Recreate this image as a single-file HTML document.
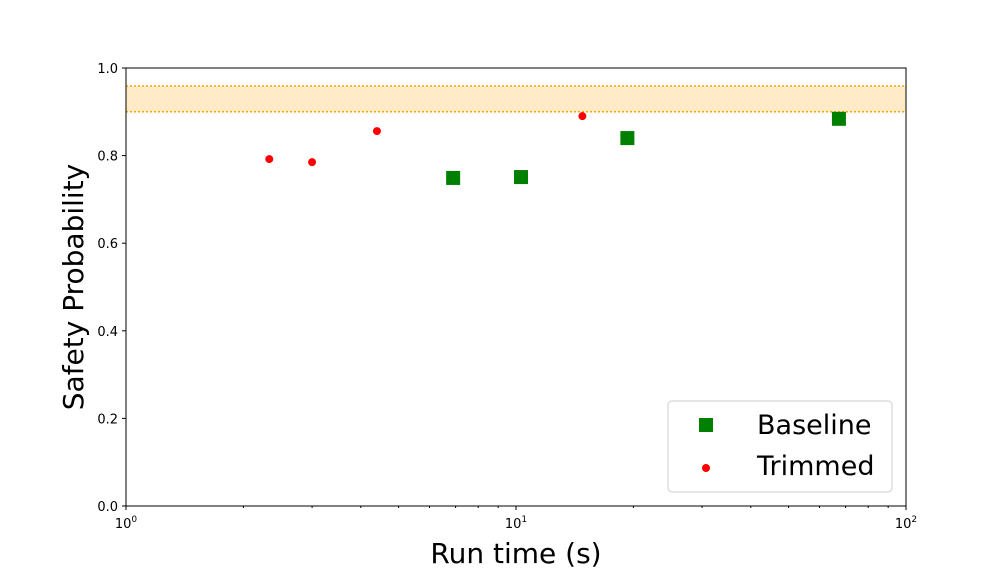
<!DOCTYPE html>
<html><head><meta charset="utf-8"><style>
body{margin:0;background:#fff;}
svg text{font-family:"DejaVu Sans","Liberation Sans",sans-serif;}
</style></head><body>
<svg id="chart" width="1007" height="569" xmlns="http://www.w3.org/2000/svg">
<g id="band"></g>
<g id="marks"></g>
<g id="axes"></g>
<text x="516" y="563" font-size="28" text-anchor="middle">Run time (s)</text>
<text transform="translate(83,287) rotate(-90)" font-size="28" text-anchor="middle">Safety Probability</text>
<g>
<rect x="668" y="401" width="224" height="91" rx="4" fill="#fff" fill-opacity="0.8" stroke="#ccc"/>
<rect x="699" y="418" width="14" height="14" fill="green"/>
<text x="757" y="434" font-size="27">Baseline</text>
<circle cx="706" cy="468" r="4" fill="red"/>
<text x="757" y="475" font-size="27">Trimmed</text>
</g>
</svg>
<script>
const baselineX=[6.9,10.3,19.3,67.3];
const baselineY=[0.749,0.751,0.840,0.884];
const trimmedX=[2.33,3.0,4.4,14.8];
const trimmedY=[0.792,0.785,0.856,0.890];
const bandRange=[0.900,0.959];
const yTicks=[0,0.2,0.4,0.6,0.8,1.0];
const xDecades=[0,1,2];
const L=126,R=906,T=68,B=506;
const NS="http://www.w3.org/2000/svg";
function sx(v){return L+(Math.log10(v)-0)/2*(R-L);}
function sy(v){return B-v*(B-T);}
function mk(t,a,p){const e=document.createElementNS(NS,t);for(const k in a)e.setAttribute(k,a[k]);p.appendChild(e);return e;}
const band=document.getElementById('band');
mk('rect',{x:L,y:sy(bandRange[1]),width:R-L,height:sy(bandRange[0])-sy(bandRange[1]),fill:'#ffebc8'},band);
bandRange.forEach(v=>{const l=mk('line',{x1:L,x2:R,y1:sy(v),y2:sy(v),stroke:'orange','stroke-width':1.5,'stroke-dasharray':'2,2'},band);

});
const marks=document.getElementById('marks');
baselineX.forEach((x,i)=>{const r=mk('rect',{x:sx(x)-7,y:sy(baselineY[i])-7,width:14,height:14,fill:'green'},marks);

});
trimmedX.forEach((x,i)=>{const c=mk('circle',{cx:sx(x),cy:sy(trimmedY[i]),r:4,fill:'red'},marks);

});
const ax=document.getElementById('axes');
mk('rect',{x:L,y:T,width:R-L,height:B-T,fill:'none',stroke:'#000','stroke-width':1},ax);
yTicks.forEach(v=>{mk('line',{x1:L-4,x2:L,y1:sy(v),y2:sy(v),stroke:'#000'},ax);
const t=mk('text',{x:L-8,y:sy(v)+5,'font-size':13,'text-anchor':'end'},ax);t.textContent=v.toFixed(1);

});
xDecades.forEach(d=>{const x=sx(Math.pow(10,d));mk('line',{x1:x,x2:x,y1:B,y2:B+4,stroke:'#000'},ax);
const t=mk('text',{x:x,y:B+22,'font-size':13,'text-anchor':'middle'},ax);t.innerHTML='10<tspan dy="-6" font-size="9">'+d+'</tspan>';


if(d<2)for(let m=2;m<10;m++){const xm=sx(m*Math.pow(10,d));mk('line',{x1:xm,x2:xm,y1:B,y2:B+2,stroke:'#000'},ax);}});
</script>
</body></html>
